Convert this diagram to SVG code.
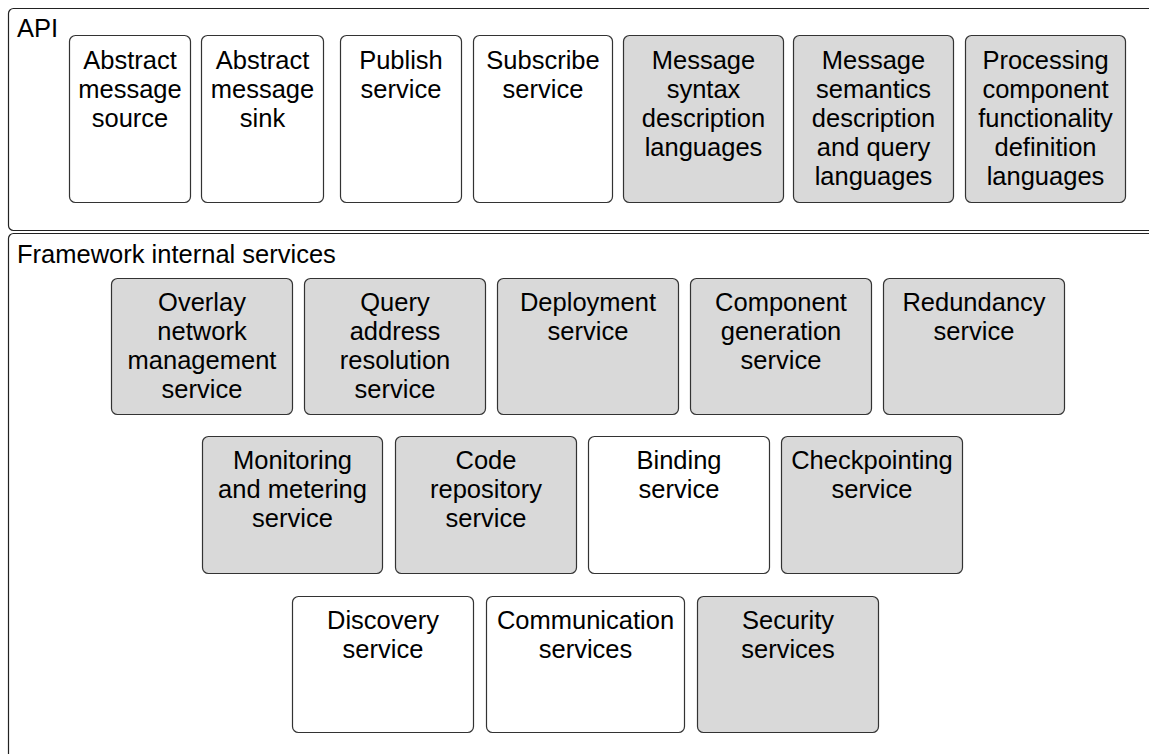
<svg xmlns="http://www.w3.org/2000/svg" width="1149" height="754" viewBox="0 0 1149 754">
<style>
.frame{fill:#ffffff;stroke:#222;stroke-width:1.2}
.box{stroke:#333;stroke-width:1.2}
.w{fill:#ffffff}
.g{fill:#d9d9d9}
text{font-family:"Liberation Sans",Arial,Helvetica,sans-serif;font-size:25.5px;fill:#000}
.c{text-anchor:middle}
</style>
<rect width="1149" height="754" fill="#ffffff"/>
<g id="api">
<rect class="frame" x="8.5" y="8.5" width="1160" height="222" rx="5"/>
<text x="17" y="37">API</text>
</g>
<g id="framework">
<rect class="frame" x="8.5" y="233.5" width="1160" height="540" rx="5"/>
<text x="17" y="263">Framework internal services</text>
</g>
<g id="connectors"></g>
<g id="abstract-source"><rect class="box w" x="69.5" y="35.5" width="121" height="167" rx="6"/><text class="c" x="130" y="68.5">Abstract</text><text class="c" x="130" y="97.5">message</text><text class="c" x="130" y="126.5">source</text></g>
<g id="abstract-sink"><rect class="box w" x="201.5" y="35.5" width="122" height="167" rx="6"/><text class="c" x="262.5" y="68.5">Abstract</text><text class="c" x="262.5" y="97.5">message</text><text class="c" x="262.5" y="126.5">sink</text></g>
<g id="publish"><rect class="box w" x="340.5" y="35.5" width="121" height="167" rx="6"/><text class="c" x="401" y="68.5">Publish</text><text class="c" x="401" y="97.5">service</text></g>
<g id="subscribe"><rect class="box w" x="473.5" y="35.5" width="139" height="167" rx="6"/><text class="c" x="543" y="68.5">Subscribe</text><text class="c" x="543" y="97.5">service</text></g>
<g id="syntax"><rect class="box g" x="623.5" y="35.5" width="160" height="167" rx="6"/><text class="c" x="703.5" y="68.5">Message</text><text class="c" x="703.5" y="97.5">syntax</text><text class="c" x="703.5" y="126.5">description</text><text class="c" x="703.5" y="155.5">languages</text></g>
<g id="semantics"><rect class="box g" x="793.5" y="35.5" width="160" height="167" rx="6"/><text class="c" x="873.5" y="68.5">Message</text><text class="c" x="873.5" y="97.5">semantics</text><text class="c" x="873.5" y="126.5">description</text><text class="c" x="873.5" y="155.5">and query</text><text class="c" x="873.5" y="184.5">languages</text></g>
<g id="processing"><rect class="box g" x="965.5" y="35.5" width="160" height="167" rx="6"/><text class="c" x="1045.5" y="68.5">Processing</text><text class="c" x="1045.5" y="97.5">component</text><text class="c" x="1045.5" y="126.5">functionality</text><text class="c" x="1045.5" y="155.5">definition</text><text class="c" x="1045.5" y="184.5">languages</text></g>
<g id="overlay"><rect class="box g" x="111.5" y="278.5" width="181" height="136" rx="6"/><text class="c" x="202" y="311">Overlay</text><text class="c" x="202" y="340">network</text><text class="c" x="202" y="369">management</text><text class="c" x="202" y="398">service</text></g>
<g id="query"><rect class="box g" x="304.5" y="278.5" width="181" height="136" rx="6"/><text class="c" x="395" y="311">Query</text><text class="c" x="395" y="340">address</text><text class="c" x="395" y="369">resolution</text><text class="c" x="395" y="398">service</text></g>
<g id="deployment"><rect class="box g" x="497.5" y="278.5" width="181" height="136" rx="6"/><text class="c" x="588" y="311">Deployment</text><text class="c" x="588" y="340">service</text></g>
<g id="component"><rect class="box g" x="690.5" y="278.5" width="181" height="136" rx="6"/><text class="c" x="781" y="311">Component</text><text class="c" x="781" y="340">generation</text><text class="c" x="781" y="369">service</text></g>
<g id="redundancy"><rect class="box g" x="883.5" y="278.5" width="181" height="136" rx="6"/><text class="c" x="974" y="311">Redundancy</text><text class="c" x="974" y="340">service</text></g>
<g id="monitoring"><rect class="box g" x="202.5" y="436.5" width="180" height="137" rx="6"/><text class="c" x="292.5" y="469">Monitoring</text><text class="c" x="292.5" y="498">and metering</text><text class="c" x="292.5" y="527">service</text></g>
<g id="code"><rect class="box g" x="395.5" y="436.5" width="181" height="137" rx="6"/><text class="c" x="486" y="469">Code</text><text class="c" x="486" y="498">repository</text><text class="c" x="486" y="527">service</text></g>
<g id="binding"><rect class="box w" x="588.5" y="436.5" width="181" height="137" rx="6"/><text class="c" x="679" y="469">Binding</text><text class="c" x="679" y="498">service</text></g>
<g id="checkpointing"><rect class="box g" x="781.5" y="436.5" width="181" height="137" rx="6"/><text class="c" x="872" y="469">Checkpointing</text><text class="c" x="872" y="498">service</text></g>
<g id="discovery"><rect class="box w" x="292.5" y="596.5" width="181" height="136" rx="6"/><text class="c" x="383" y="629">Discovery</text><text class="c" x="383" y="658">service</text></g>
<g id="communication"><rect class="box w" x="486.5" y="596.5" width="198" height="136" rx="6"/><text class="c" x="585.5" y="629">Communication</text><text class="c" x="585.5" y="658">services</text></g>
<g id="security"><rect class="box g" x="697.5" y="596.5" width="181" height="136" rx="6"/><text class="c" x="788" y="629">Security</text><text class="c" x="788" y="658">services</text></g>
</svg>
